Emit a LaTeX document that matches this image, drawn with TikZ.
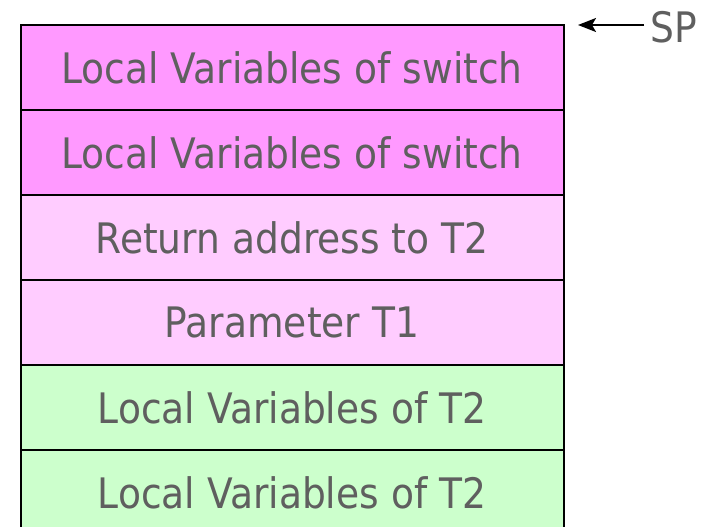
\documentclass[tikz,border=0pt]{standalone}
\usepackage{fontspec}
\setmainfont{DejaVu Sans}[FakeStretch=0.895]
\usetikzlibrary{arrows.meta}
\definecolor{frameA}{HTML}{FF99FF}
\definecolor{frameB}{HTML}{FFCCFF}
\definecolor{frameC}{HTML}{CCFFCC}
\definecolor{labelgray}{HTML}{5F5F5F}
\begin{document}
\begin{tikzpicture}[x=1pt,y=1pt,
  cell/.style={draw=black, line width=2pt, minimum width=543pt, minimum height=85pt,
    inner sep=0pt, anchor=north west, text=labelgray, font=\fontsize{42}{48}\selectfont},
  ptr/.style={-{Stealth[length=18pt,width=14pt,inset=4pt]}, line width=2pt}]
\useasboundingbox (0,0) rectangle (712,-527);
\clip (0,0) rectangle (712,-527);
\fill[white] (0,0) rectangle (712,-527);
\node[cell, fill=frameA] (r1) at (19.5,-24)  {Local Variables of switch};
\node[cell, fill=frameA] (r2) at (19.5,-109) {Local Variables of switch};
\node[cell, fill=frameB] (r3) at (19.5,-194) {Return address to T2};
\node[cell, fill=frameB] (r4) at (19.5,-279) {Parameter T1};
\node[cell, fill=frameC] (r5) at (19.5,-364) {Local Variables of T2};
\node[cell, fill=frameC] (r6) at (19.5,-449) {Local Variables of T2};
\node[text=labelgray, font=\fontsize{42}{48}\selectfont, anchor=west, inner sep=0pt] (sp) at (650,-27) {SP};
\coordinate (sptip) at (578,-25);
\draw[ptr] (sp.west |- sptip) ++(-6,0) -- (sptip);
\end{tikzpicture}
\end{document}
